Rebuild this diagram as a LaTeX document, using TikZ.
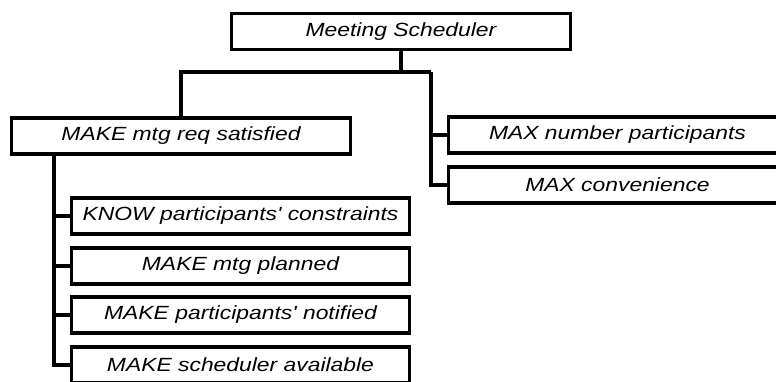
\documentclass[tikz,border=0pt]{standalone}
\usepackage{fontspec}
\newfontfamily\goalfont[FakeStretch=1.2]{Liberation Sans}
\tikzset{every picture/.style={line width=0.75pt}}

\begin{document}
\begin{tikzpicture}[x=0.75pt,y=0.75pt,yscale=-1,xscale=1,
  goal/.style={draw, line width=2.4pt, minimum width=254pt, minimum height=27pt, inner sep=0.75pt, font=\goalfont\itshape\fontsize{14.3}{16}\selectfont},
  link/.style={line width=2.4pt}]
%set diagram to 776 x 382
\useasboundingbox (0,0) rectangle (776,382);

% Text Node
\draw (401,31.5) node [goal] (ms) {Meeting Scheduler};
% Text Node
\draw (181,136) node [goal] (mr) {MAKE mtg req satisfied};
% Text Node
\draw (617.5,135) node [goal] (mn) {MAX number participants};
% Text Node
\draw (617.5,185) node [goal] (mc) {MAX convenience};
% Text Node
\draw (240.5,216) node [goal] (kc) {KNOW participants' constraints};
% Text Node
\draw (240.5,266) node [goal] (mp) {MAKE mtg planned};
% Text Node
\draw (240.5,315) node [goal] (pn) {MAKE participants' notified};
% Text Node
\draw (240.5,365) node [goal] (sa) {MAKE scheduler available};

%Straight Lines
\coordinate (hub) at (401,72);
\coordinate (rspine) at (431,72);
\coordinate (lspine) at (54,155);
\draw [link] (ms.south) -- (hub) -| (mr.north);
\draw [link] (hub) -- (rspine);
\foreach \g in {mn,mc}
  \draw [link] (rspine) |- (\g.west);
\foreach \g in {kc,mp,pn,sa}
  \draw [link] (lspine) |- (\g.west);

\end{tikzpicture}
\end{document}
